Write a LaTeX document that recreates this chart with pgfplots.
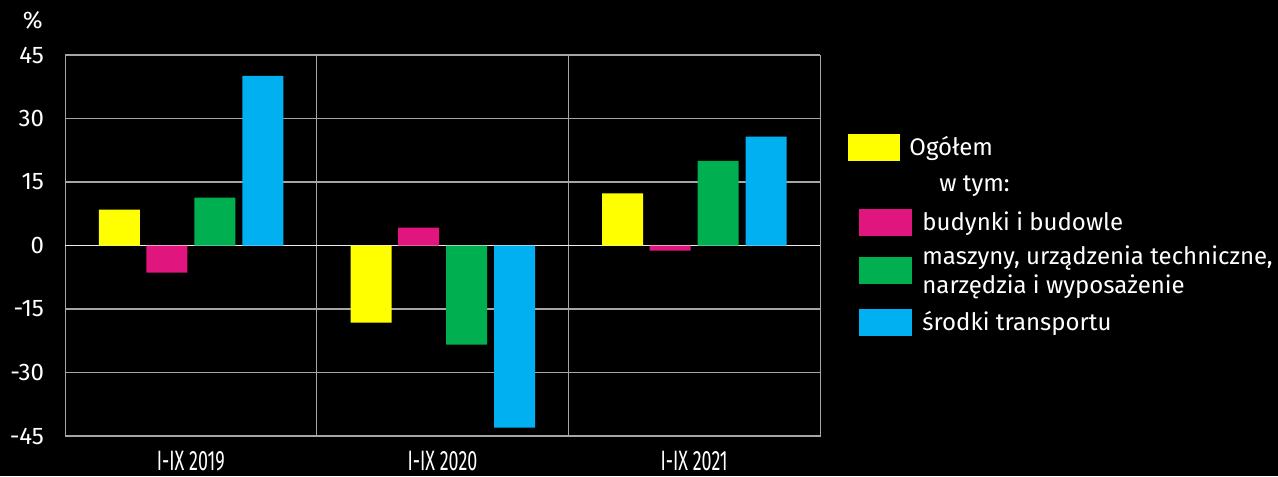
\documentclass[border=0pt]{standalone}
\usepackage{fontspec}
\setmainfont{Fira Sans}
\newfontfamily\condfont{Fira Sans}[FakeStretch=0.64]
\usepackage{pgfplots}
\pgfplotsset{compat=1.18}

\definecolor{cOgol}{HTML}{FFFF00}
\definecolor{cBud}{HTML}{E0157D}
\definecolor{cMasz}{HTML}{00B050}
\definecolor{cTrans}{HTML}{00B0F0}
\definecolor{cGrid}{HTML}{A6A6A6}

\begin{document}
\begin{tikzpicture}
\fill[black] (-32.5pt,-20pt) rectangle (606.5pt,218pt);
\begin{axis}[
    at={(0,0)}, anchor=south west,
    scale only axis, width=377.5pt, height=190.5pt,
    ybar, bar width=20.5pt,
    xmin=-0.5, xmax=2.5, ymin=-45, ymax=45,
    xtick={0,1,2},
    xticklabels={I-IX 2019, I-IX 2020, I-IX 2021},
    minor xtick={0.5,1.5}, xminorgrids,
    ytick={-45,-30,...,45}, ymajorgrids,
    extra y ticks={0}, extra y tick labels={},
    extra y tick style={grid style={white!85!gray, line width=0.9pt}},
    major tick length=0pt, minor tick length=0pt,
    axis line style={cGrid},
    grid style={cGrid, line width=0.6pt},
    minor grid style={cGrid, line width=0.6pt},
    tick label style={white, font=\fontsize{12}{14}\selectfont},
    xticklabel style={font=\condfont\fontsize{14}{16}\selectfont, yshift=-4.2pt},
    yticklabel style={xshift=-7pt},
    /pgf/number format/assume math mode=true,
    legend style={draw=none, fill=none, text=white, inner sep=0pt,
        at={(1.0371,0.8077)}, anchor=north west,
        font=\fontsize{12}{14.5}\selectfont, row sep=0pt,
        cells={anchor=west, align=left}},
]
\addplot[fill=cOgol, draw=none, bar shift=-35.75pt,
    legend image code/.code={\path[fill=none, draw=none] (0pt,-9.4pt) rectangle (35pt,9.4pt);
        \fill[cOgol] (0pt,-6.75pt) rectangle (26pt,6.75pt);}]
    coordinates {(0,8.5) (1,-18.2) (2,12.3)};
\addlegendentry{\hspace*{-6.5pt}Ogółem}
\addlegendimage{legend image code/.code={\path[fill=none, draw=none] (0pt,-9.4pt) rectangle (35pt,9.4pt);}}
\addlegendentry{\hspace*{8.5pt}w tym:}
\addplot[fill=cBud, draw=none, bar shift=-12pt,
    legend image code/.code={\path[fill=none, draw=none] (0pt,-9.4pt) rectangle (35pt,9.4pt);
        \fill[cBud] (5.5pt,-6.75pt) rectangle (32pt,6.75pt);}]
    coordinates {(0,-6.4) (1,4.2) (2,-1.2)};
\addlegendentry{budynki i budowle}
\addplot[fill=cMasz, draw=none, bar shift=12pt,
    legend image code/.code={\path[fill=none, draw=none] (0pt,-9.4pt) rectangle (35pt,8pt);
        \fill[cMasz] (5.5pt,-6.75pt) rectangle (32pt,6.75pt);}]
    coordinates {(0,11.3) (1,-23.4) (2,20.0)};
\addlegendentry{maszyny, urządzenia techniczne,\\narzędzia i wyposażenie}
\addplot[fill=cTrans, draw=none, bar shift=36pt,
    legend image code/.code={\path[fill=none, draw=none] (0pt,-9.4pt) rectangle (35pt,11pt);
        \fill[cTrans] (5.5pt,-6.75pt) rectangle (32pt,6.75pt);}]
    coordinates {(0,40.1) (1,-43.0) (2,25.7)};
\addlegendentry{środki transportu}
\end{axis}
\node[anchor=east, text=white, font=\fontsize{12}{14}\selectfont, inner sep=0pt]
    at (-11pt,208pt) {\%};
\pgfresetboundingbox
\useasboundingbox (-32.5pt,-20pt) rectangle (606.5pt,218pt);
\end{tikzpicture}
\end{document}
